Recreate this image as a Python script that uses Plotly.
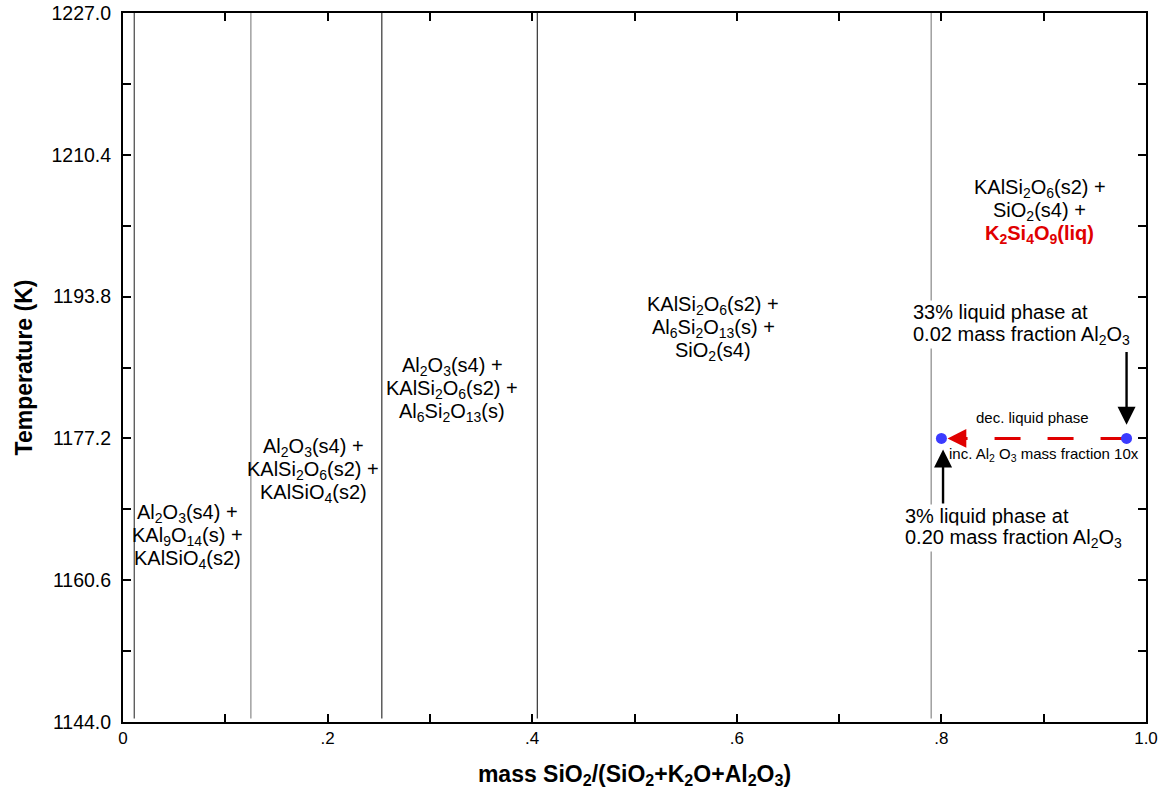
import plotly.graph_objects as go

# ---- data ----
boundaries = [0.011, 0.125, 0.253, 0.405, 0.790]
y_min, y_max = 1144.0, 1227.0
x_ticks = [0, 0.1, 0.2, 0.3, 0.4, 0.5, 0.6, 0.7, 0.8, 0.9, 1.0]
x_ticktext = ["0", "", ".2", "", ".4", "", ".6", "", ".8", "", "1.0"]
y_ticks = [1144.0, 1152.3, 1160.6, 1168.9, 1177.2, 1185.5, 1193.8, 1202.1, 1210.4, 1218.7, 1227.0]
y_ticktext = ["1144.0", "", "1160.6", "", "1177.2", "", "1193.8", "", "1210.4", "", "1227.0"]

phase_labels = [
    ["Al<sub>2</sub>O<sub>3</sub>(s4) +", "KAl<sub>9</sub>O<sub>14</sub>(s) +", "KAlSiO<sub>4</sub>(s2)"],
    ["Al<sub>2</sub>O<sub>3</sub>(s4) +", "KAlSi<sub>2</sub>O<sub>6</sub>(s2) +", "KAlSiO<sub>4</sub>(s2)"],
    ["Al<sub>2</sub>O<sub>3</sub>(s4) +", "KAlSi<sub>2</sub>O<sub>6</sub>(s2) +", "Al<sub>6</sub>Si<sub>2</sub>O<sub>13</sub>(s)"],
    ["KAlSi<sub>2</sub>O<sub>6</sub>(s2) +", "Al<sub>6</sub>Si<sub>2</sub>O<sub>13</sub>(s) +", "SiO<sub>2</sub>(s4)"],
    ["KAlSi<sub>2</sub>O<sub>6</sub>(s2) +", "SiO<sub>2</sub>(s4) +",
     "<span style='color:#e00000'><b>K<sub>2</sub>Si<sub>4</sub>O<sub>9</sub>(liq)</b></span>"],
]
label_x = [0.0635, 0.186, 0.322, 0.577, 0.896]
label_y = [1165.7, 1173.5, 1182.9, 1190.1, 1203.8]

note_lines = [
    ["33% liquid phase at", "0.02 mass fraction Al<sub>2</sub>O<sub>3</sub>"],
    ["3% liquid phase at", "0.20 mass fraction Al<sub>2</sub>O<sub>3</sub>"],
]
note_x = [0.771, 0.763]
note_y = [1190.6, 1166.8]

liquid_x = [0.80, 0.981]
liquid_y = [1177.2, 1177.2]

line_colors = ["#444444", "#888888", "#333333", "#333333", "#888888"]

FAM = "Liberation Sans, Arial, Helvetica, sans-serif"
LINE_STEP = 23

fig = go.Figure()

for b, c in zip(boundaries, line_colors):
    fig.add_trace(go.Scatter(x=[b, b], y=[y_min + 0.4, y_max], mode="lines",
                             line=dict(color=c, width=1.2), hoverinfo="skip", showlegend=False))

# red dashed line (drawn from right to left)
fig.add_trace(go.Scatter(x=[liquid_x[1], 0.815], y=[liquid_y[1], liquid_y[0]], mode="lines",
                         line=dict(color="#e00000", width=3, dash="26px,27px"),
                         hoverinfo="skip", showlegend=False))
fig.add_trace(go.Scatter(x=liquid_x, y=liquid_y, mode="markers",
                         marker=dict(color="#3b3bff", size=11), showlegend=False))

font_main = dict(family=FAM, size=20, color="black")
for lines, x, y in zip(phase_labels, label_x, label_y):
    n = len(lines)
    for i, t in enumerate(lines):
        fig.add_annotation(x=x, y=y, text=t, showarrow=False, font=font_main, align="center",
                           yshift=((n - 1) / 2 - i) * LINE_STEP)

# liquid phase notes (white background hides the boundary line behind)
for lines, x, y in zip(note_lines, note_x, note_y):
    n = len(lines)
    for i, t in enumerate(lines):
        fig.add_annotation(x=x, y=y, xanchor="left", text=t, showarrow=False, font=font_main,
                           align="left", bgcolor="white", borderpad=0,
                           yshift=((n - 1) / 2 - i) * LINE_STEP)

small = dict(family=FAM, size=15, color="black")
fig.add_annotation(x=0.8886, y=1179.6, text="dec. liquid phase", showarrow=False, font=small)
fig.add_annotation(x=0.8055, y=1175.3, xanchor="left", text="inc. Al<sub>2</sub> O<sub>3</sub> mass fraction 10x",
                   showarrow=False, font=small)

# arrows
fig.add_annotation(x=0.981, y=1178.8, ax=0.981, ay=1187.5, axref="x", ayref="y", text="",
                   showarrow=True, arrowhead=2, arrowsize=1.5, arrowwidth=2.4, arrowcolor="black")
fig.add_annotation(x=0.8016, y=1175.9, ax=0.8016, ay=1169.4, axref="x", ayref="y", text="",
                   showarrow=True, arrowhead=2, arrowsize=1.5, arrowwidth=2.4, arrowcolor="black")
fig.add_annotation(x=0.806, y=1177.2, ax=0.825, ay=1177.2, axref="x", ayref="y", text="",
                   showarrow=True, arrowhead=2, arrowsize=1.5, arrowwidth=2.5, arrowcolor="#e00000")

axis_common = dict(showgrid=False, zeroline=False, showline=True, linecolor="black", linewidth=2,
                   mirror="ticks", ticks="inside", ticklen=8, tickwidth=2, tickcolor="black")

fig.update_xaxes(range=[0, 1], tickvals=x_ticks, ticktext=x_ticktext, ticklabeloverflow="allow",
                 tickfont=dict(family=FAM, size=17, color="black"),
                 title=dict(text="<b>mass SiO<sub>2</sub>/(SiO<sub>2</sub>+K<sub>2</sub>O+Al<sub>2</sub>O<sub>3</sub>)</b>",
                            font=dict(family=FAM, size=23, color="black"), standoff=18),
                 **axis_common)
fig.update_yaxes(range=[y_min, y_max], tickvals=y_ticks, ticktext=y_ticktext, ticklabelstandoff=6,
                 tickfont=dict(family=FAM, size=19.5, color="black"),
                 title=dict(text="<b>Temperature (K)</b>",
                            font=dict(family=FAM, size=23, color="black"), standoff=12),
                 **axis_common)

fig.update_layout(width=1159, height=792, margin=dict(l=123, r=13, t=13, b=70, autoexpand=False),
                  plot_bgcolor="white", paper_bgcolor="white", showlegend=False)

fig.write_html("out.html")
